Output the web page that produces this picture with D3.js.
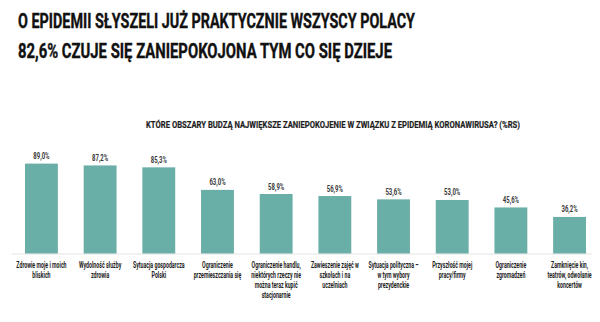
<!DOCTYPE html>
<html><head><meta charset="utf-8">
<script src="https://cdn.jsdelivr.net/npm/d3@7"></script>
<style>
html,body{margin:0;padding:0;background:#fff;}
svg{display:block;}
text{font-family:Roboto, "DejaVu Sans", sans-serif;font-weight:700;}
</style></head>
<body>
<script>
const titleLines = ["O EPIDEMII SŁYSZELI JUŻ PRAKTYCZNIE WSZYSCY POLACY",
                    "82,6% CZUJE SIĘ ZANIEPOKOJONA TYM CO SIĘ DZIEJE"];
const subtitle = "KTÓRE OBSZARY BUDZĄ NAJWIĘKSZE ZANIEPOKOJENIE W ZWIĄZKU Z EPIDEMIĄ KORONAWIRUSA? (%RS)";
const categories = [
  "Zdrowie moje i moich\nbliskich",
  "Wydolność służby\nzdrowia",
  "Sytuacja gospodarcza\nPolski",
  "Ograniczenie\nprzemieszczania się",
  "Ograniczenie handlu,\nniektórych rzeczy nie\nmożna teraz kupić\nstacjonarnie",
  "Zawieszenie zajęć w\nszkołach i na\nuczelniach",
  "Sytuacja polityczna –\nw tym wybory\nprezydenckie",
  "Przyszłość mojej\npracy/firmy",
  "Ograniczenie\nzgromadzeń",
  "Zamknięcie kin,\nteatrów, odwołanie\nkoncertów"
];
const values = [89.0, 87.2, 85.3, 63.0, 58.9, 56.9, 53.6, 53.0, 45.6, 36.2];

const W = 600, H = 322;
const svg = d3.select("body").append("svg").attr("width", W).attr("height", H);

// titles
svg.selectAll("text.title").data(titleLines).join("text")
  .attr("class","title")
  .attr("x", 18).attr("y", (d,i)=> 27.5 + i*30)
  .attr("font-size", 21).attr("fill", "#111")
  .attr("font-weight", 900)
  .attr("stroke", "#111").attr("stroke-width", 0.4)
  .attr("textLength", (d,i)=> i===0 ? 397 : 374)
  .attr("lengthAdjust","spacingAndGlyphs")
  .text(d=>d);

svg.append("text")
  .attr("x", 146).attr("y", 127.5)
  .attr("font-size", 9).attr("fill", "#1e1e1e")
  .attr("stroke", "#1e1e1e").attr("stroke-width", 0.2)
  .attr("textLength", 374).attr("lengthAdjust","spacingAndGlyphs")
  .text(subtitle);

const baseY = 253.5;
const x = d3.scaleBand().domain(categories).range([25, 586]).paddingInner(0.44).paddingOuter(0);
const y = d3.scaleLinear().domain([0, 100]).range([baseY, baseY - 101]);

// baseline
svg.append("line").attr("x1", 12).attr("x2", 592).attr("y1", baseY+0.5).attr("y2", baseY+0.5)
  .attr("stroke", "#e4e4e4").attr("stroke-width", 1);

svg.selectAll("rect.bar").data(values).join("rect")
  .attr("class","bar")
  .attr("x", (d,i)=> x(categories[i]))
  .attr("y", d=> y(d))
  .attr("width", x.bandwidth())
  .attr("height", d=> baseY - y(d))
  .attr("fill", "#6aaea8");

svg.selectAll("text.val").data(values).join("text")
  .attr("class","val")
  .attr("transform", (d,i)=> `translate(${x(categories[i]) + x.bandwidth()/2},${y(d) - 4.5}) scale(0.68,1)`)
  .attr("text-anchor","middle")
  .attr("font-size", 8.8).attr("fill", "#3a3a3a")
  .text(d=> d.toFixed(1).replace(".", ",") + "%");

// category axis
const axis = d3.axisBottom(x).tickSize(0).tickPadding(0);
const ag = svg.append("g").attr("transform", `translate(0,${baseY})`).call(axis);
ag.select(".domain").remove();
ag.selectAll(".tick text").each(function(d){
  const t = d3.select(this);
  t.text(null).attr("y", 0).attr("dy", null)
   .attr("transform","scale(0.58,1)")
   .attr("font-size", 9).attr("fill", "#1e1e1e")
   .attr("font-family", "Roboto, sans-serif").attr("font-weight", 700);
  d.split("\n").forEach((line, k)=>{
    t.append("tspan").attr("x", 0).attr("y", 14.5 + k*10).text(line);
  });
});
</script>
</body></html>
